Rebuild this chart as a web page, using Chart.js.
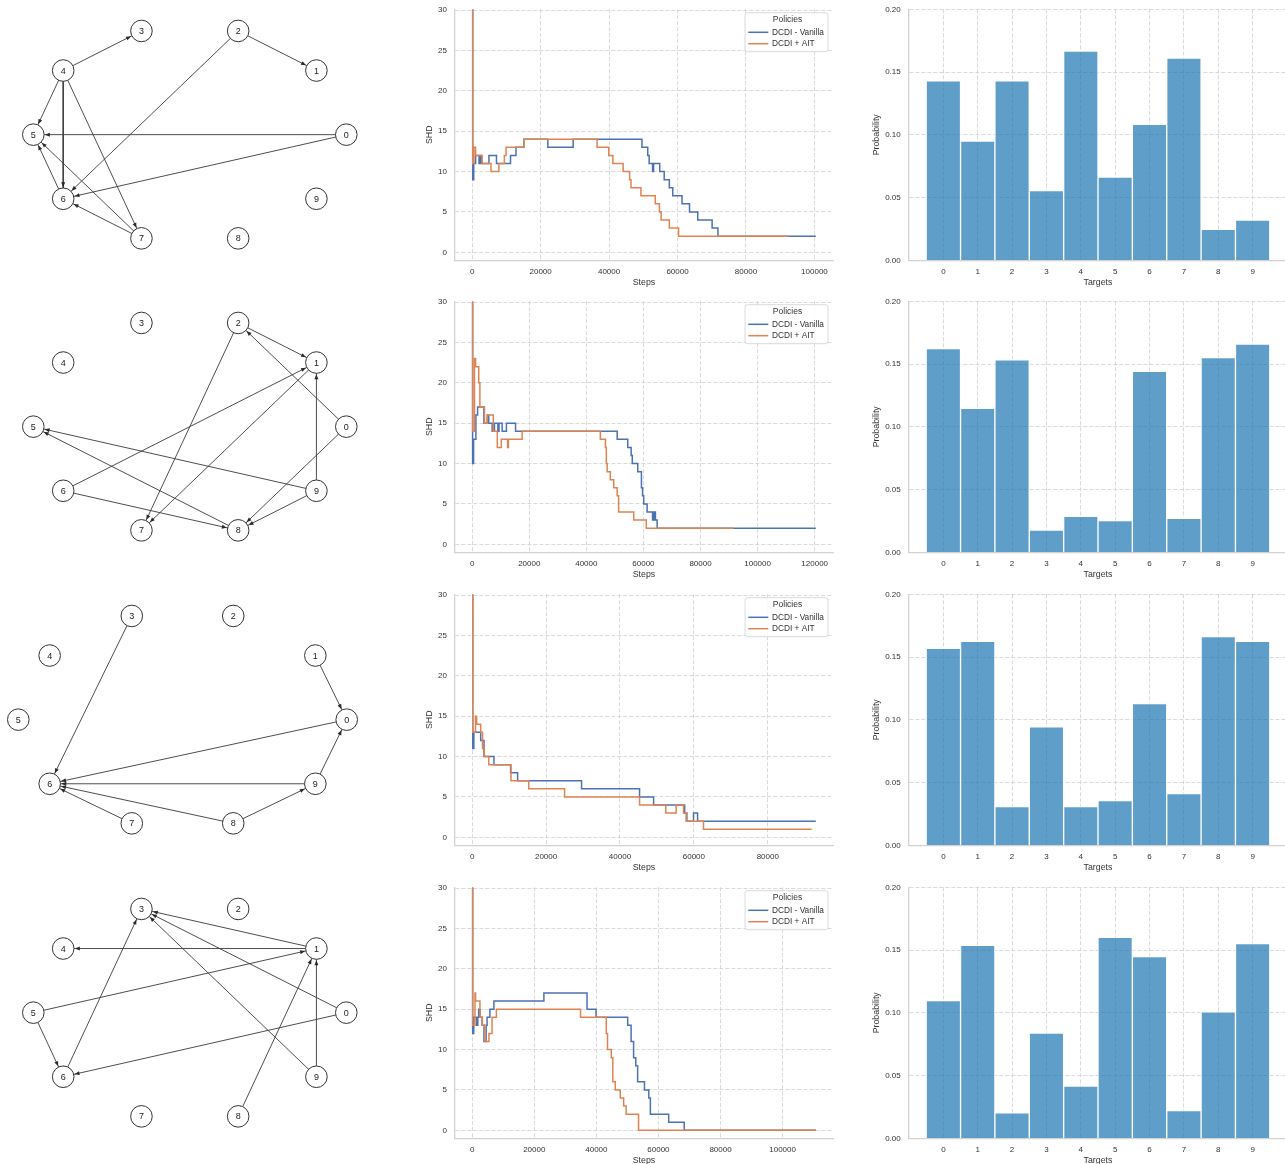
<!DOCTYPE html>
<html><head><meta charset="utf-8">
<script src="https://cdn.jsdelivr.net/npm/chart.js@4.4.1/dist/chart.umd.min.js"></script>
<style>
html,body{margin:0;padding:0;background:#fff;overflow:hidden;width:1285px;height:1164px;position:relative;}
canvas{position:absolute;}
</style></head><body>
<script>
// ---------------- DATA ----------------
const rowTops = [0, 292, 585, 878];

// graph layout (circular layout coordinates)
const nodeIds = [0, 1, 2, 3, 4, 5, 6, 7, 8, 9];
const nodeX = [1.000, 0.809, 0.309, -0.309, -0.809, -1.000, -0.809, -0.309, 0.309, 0.809];
const nodeY = [0.000, 0.588, 0.951, 0.951, 0.588, 0.000, -0.588, -0.951, -0.951, -0.588];

const edges1 = [[4,3],[2,1],[4,5],[4,6],[4,7],[2,6],[0,5],[0,6],[6,5],[7,5],[7,6]];
const edges2 = [[2,1],[0,2],[2,7],[6,1],[1,7],[9,1],[9,5],[8,5],[6,8],[0,8],[9,8]];
const edges3 = [[3,6],[1,0],[0,6],[9,6],[7,6],[8,6],[8,9],[9,0]];
const edges4 = [[1,3],[1,4],[0,3],[9,3],[6,3],[5,1],[8,1],[9,1],[5,6],[0,6]];

// SHD curves: [step, SHD] at each change point
const vanilla1 = [[0,30],[150,9],[450,11],[1000,12],[2000,11],[2300,12],[2700,11],[4900,12],[7100,11],[11200,12],[12800,13],[15100,14],[22100,13],[29500,14],[49600,13],[51300,12],[51700,11],[52700,10],[53000,11],[54800,10],[56100,9],[57600,8],[58600,7],[61300,6],[63500,5],[65900,4],[70100,3],[71800,2],[100400,2]];
const ait1 = [[0,30],[150,11],[500,13],[1000,12],[2900,11],[5500,10],[7800,11],[9400,12],[9900,13],[15100,14],[36500,13],[39900,12],[41100,11],[44100,10],[46000,9],[46400,8],[49300,7],[53500,6],[54700,5],[55200,4],[57600,3],[60300,2],[92400,2]];

const vanilla2 = [[0,30],[150,10],[500,13],[1300,16],[1900,17],[4100,15],[5300,16],[5800,15],[7000,14],[7800,15],[9000,14],[9400,15],[10500,14],[12000,15],[15200,14],[50800,13],[54500,12],[55700,11],[56100,10],[58000,9],[59300,7],[59700,6],[60100,5],[61300,4],[63200,3],[63400,4],[63700,3],[64000,4],[64200,3],[64800,2],[120400,2]];
const ait2 = [[0,30],[150,14],[800,23],[1200,22],[2300,20],[2700,17],[4300,15],[5300,16],[7400,14],[8800,12],[10200,13],[12400,12],[12700,13],[17500,14],[44900,13],[46700,12],[47000,10],[47300,9],[48400,8],[49600,7],[50800,6],[51300,4],[56600,3],[61000,2],[91600,2]];

const vanilla3 = [[0,30],[150,11],[450,13],[2300,12],[3200,10],[5900,9],[10400,8],[12300,7],[29600,6],[45300,5],[49100,4],[57500,3],[58100,2],[59900,3],[61000,2],[93000,2]];
const ait3 = [[0,30],[150,13],[900,15],[1200,14],[2300,13],[2800,11],[3300,10],[4500,9],[10500,7],[15300,6],[25000,5],[45300,4],[52400,3],[55200,4],[57200,3],[57900,2],[62600,1],[91900,1]];

const vanilla4 = [[0,30],[150,12],[500,14],[1400,13],[1800,14],[2100,15],[2500,14],[3200,13],[3800,11],[4500,13],[4800,14],[5700,15],[7000,16],[23100,17],[37000,15],[39900,14],[50100,13],[51200,11],[52000,9],[52700,8],[53300,6],[55500,5],[56900,4],[57400,2],[63300,1],[68300,0],[110700,0]];
const ait4 = [[0,30],[150,13],[900,17],[1100,16],[2500,14],[3300,13],[4000,11],[5400,12],[6400,14],[7800,15],[34900,14],[43200,12],[43600,10],[44800,9],[45300,6],[46100,5],[47700,4],[48800,3],[49600,2],[53600,0],[110700,0]];

const stepTicks1 = [0, 20000, 40000, 60000, 80000, 100000];
const stepTicks2 = [0, 20000, 40000, 60000, 80000, 100000, 120000];
const stepTicks3 = [0, 20000, 40000, 60000, 80000];
const stepTicks4 = [0, 20000, 40000, 60000, 80000, 100000];
const shdTicks = [0, 5, 10, 15, 20, 25, 30];

const seriesNames = ['DCDI - Vanilla', 'DCDI + AIT'];
const legendTitle = 'Policies';

// target histograms
const targets = [0, 1, 2, 3, 4, 5, 6, 7, 8, 9];
const probs1 = [0.143, 0.095, 0.143, 0.0555, 0.1668, 0.0664, 0.1084, 0.1612, 0.0247, 0.0321];
const probs2 = [0.1623, 0.1147, 0.1533, 0.0178, 0.0287, 0.0252, 0.1442, 0.0271, 0.1551, 0.166];
const probs3 = [0.157, 0.1625, 0.0308, 0.0943, 0.0308, 0.0356, 0.1129, 0.0412, 0.1663, 0.1625];
const probs4 = [0.1097, 0.1538, 0.0202, 0.0839, 0.0417, 0.1602, 0.1448, 0.022, 0.1007, 0.1551];
const probTicks = [0, 0.05, 0.10, 0.15, 0.20];

// ---------------- STYLE ----------------
const FONT = '"Liberation Sans", Arial, sans-serif';
const TXT = '#333333';
const GRID = '#d0d0d0';
const SPINE = '#d2d2d2';
const BLUE = '#4c72b0';
const ORANGE = '#dd8452';
Chart.defaults.font.family = FONT;

function mkCanvas(left, top, w, h) {
  const c = document.createElement('canvas');
  c.width = w; c.height = h;
  c.style.left = left + 'px'; c.style.top = top + 'px';
  c.style.width = w + 'px'; c.style.height = h + 'px';
  document.body.appendChild(c);
  return c;
}
function noPad(s) { s.paddingTop = 0; s.paddingBottom = 0; s.paddingLeft = 0; s.paddingRight = 0; }

// ---------------- GRAPH PLOTS ----------------
const NODE_R = 10.8;
const graphPlugin = {
  id: 'graphDeco',
  afterDatasetsDraw(chart, args, opts) {
    const ctx = chart.ctx, sx = chart.scales.x, sy = chart.scales.y;
    ctx.save();
    ctx.fillStyle = '#2a2a2a';
    opts.edges.forEach(([s, t]) => {
      const x1 = sx.getPixelForValue(nodeX[s]), y1 = sy.getPixelForValue(nodeY[s]);
      const x2 = sx.getPixelForValue(nodeX[t]), y2 = sy.getPixelForValue(nodeY[t]);
      const dx = x2 - x1, dy = y2 - y1, L = Math.hypot(dx, dy);
      const ux = dx / L, uy = dy / L;
      const tx = x2 - ux * (NODE_R + 0.8), ty = y2 - uy * (NODE_R + 0.8);
      const bx = tx - ux * 5, by = ty - uy * 5;
      ctx.beginPath();
      ctx.moveTo(tx, ty);
      ctx.lineTo(bx - uy * 2, by + ux * 2);
      ctx.lineTo(bx + uy * 2, by - ux * 2);
      ctx.closePath();
      ctx.fill();
    });
    ctx.fillStyle = '#222';
    ctx.font = '9px ' + FONT;
    ctx.textAlign = 'center';
    ctx.textBaseline = 'middle';
    nodeIds.forEach(i => {
      ctx.fillText(String(i), sx.getPixelForValue(nodeX[i]), sy.getPixelForValue(nodeY[i]) + 0.5);
    });
    ctx.restore();
  }
};

function graphChart(row, edges, padL, padR) {
  const top = rowTops[row];
  const c = mkCanvas(0, top, 380, 270);
  const datasets = [{
    data: nodeIds.map(i => ({x: nodeX[i], y: nodeY[i]})),
    pointRadius: NODE_R, pointHoverRadius: NODE_R,
    pointBackgroundColor: '#ffffff', pointBorderColor: '#333333', pointBorderWidth: 1,
    showLine: false, clip: false
  }];
  edges.forEach(([s, t]) => {
    datasets.push({
      data: [{x: nodeX[s], y: nodeY[s]}, {x: nodeX[t], y: nodeY[t]}],
      showLine: true, borderColor: '#3a3a3a', borderWidth: 0.9,
      pointRadius: 0, pointHoverRadius: 0, clip: false
    });
  });
  new Chart(c, {
    type: 'scatter',
    data: {datasets},
    options: {
      responsive: false, animation: false, events: [], devicePixelRatio: 1,
      layout: {padding: {left: padL, right: padR, top: 25.6, bottom: 26.3}},
      scales: {
        x: {type: 'linear', display: false, min: -1, max: 1},
        y: {type: 'linear', display: false, min: -1, max: 1}
      },
      plugins: {legend: {display: false}, tooltip: {enabled: false}, graphDeco: {edges}}
    },
    plugins: [graphPlugin]
  });
}

graphChart(0, edges1, 33.3, 33.7);
graphChart(1, edges2, 33.3, 33.7);
graphChart(2, edges3, 18.3, 33.3);
graphChart(3, edges4, 33.3, 33.7);

// ---------------- SHD LINE CHARTS ----------------
const legendPlugin = {
  id: 'policyLegend',
  afterDraw(chart) {
    const ctx = chart.ctx, ca = chart.chartArea;
    const bw = 83, bh = 39;
    const bx = ca.right - 5 - bw, by = ca.top + 3.5;
    ctx.save();
    ctx.beginPath();
    if (ctx.roundRect) ctx.roundRect(bx, by, bw, bh, 2.5); else ctx.rect(bx, by, bw, bh);
    ctx.fillStyle = 'rgba(255,255,255,0.85)';
    ctx.fill();
    ctx.strokeStyle = '#d6d6d6';
    ctx.lineWidth = 0.9;
    ctx.stroke();
    ctx.fillStyle = TXT;
    ctx.font = '8.5px ' + FONT;
    ctx.textBaseline = 'middle';
    ctx.textAlign = 'center';
    ctx.fillText(legendTitle, bx + bw / 2 + 1, by + 7);
    ctx.textAlign = 'left';
    ctx.font = '8.3px ' + FONT;
    const dsOrder = [0, 1];
    dsOrder.forEach((di, k) => {
      const ds = chart.data.datasets[di];
      const yy = by + 19.6 + k * 11.4;
      ctx.strokeStyle = ds.borderColor;
      ctx.lineWidth = 1.5;
      ctx.beginPath();
      ctx.moveTo(bx + 3.3, yy);
      ctx.lineTo(bx + 23.3, yy);
      ctx.stroke();
      ctx.fillStyle = TXT;
      ctx.fillText(ds.label, bx + 27, yy + 0.3);
    });
    ctx.restore();
  }
};

function lineChart(row, van, ait, xTicks) {
  const top = rowTops[row];
  const c = mkCanvas(415, top, 425, 290);
  const dataMax = Math.max(van[van.length - 1][0], ait[ait.length - 1][0]);
  const margin = dataMax * 0.05;
  new Chart(c, {
    type: 'line',
    data: {datasets: [
      {label: seriesNames[0], data: van.map(p => ({x: p[0], y: p[1]})), borderColor: BLUE,
       borderWidth: 1.5, pointRadius: 0, pointHoverRadius: 0, stepped: true, fill: false, order: 1},
      {label: seriesNames[1], data: ait.map(p => ({x: p[0], y: p[1]})), borderColor: ORANGE,
       borderWidth: 1.5, pointRadius: 0, pointHoverRadius: 0, stepped: true, fill: false, order: 0}
    ]},
    options: {
      responsive: false, animation: false, events: [], devicePixelRatio: 1,
      layout: {padding: {left: 0, right: 7, top: 9.2, bottom: 0}},
      scales: {
        x: {
          type: 'linear', min: -margin, max: dataMax + margin,
          afterBuildTicks: s => { s.ticks = xTicks.map(v => ({value: v})); },
          afterFit: s => { s.height = 29.6; noPad(s); },
          grid: {color: GRID, lineWidth: 0.8, drawTicks: false},
          border: {display: true, color: SPINE, width: 1.3, dash: [4, 2]},
          ticks: {padding: 6.3, color: TXT, font: {size: 8}, maxRotation: 0, autoSkip: false, callback: v => String(v)},
          title: {display: true, text: 'Steps', color: TXT, font: {size: 8.8}, padding: {top: 0, bottom: 2.4}}
        },
        y: {
          type: 'linear', min: -1, max: 30.1,
          afterBuildTicks: s => { s.ticks = shdTicks.map(v => ({value: v})); },
          afterFit: s => { s.width = 40; noPad(s); },
          grid: {color: GRID, lineWidth: 0.8, drawTicks: false},
          border: {display: true, color: SPINE, width: 1.3, dash: [4, 2]},
          ticks: {padding: 8, color: TXT, font: {size: 8}, autoSkip: false, callback: v => String(v)},
          title: {display: true, text: 'SHD', color: TXT, font: {size: 8.8}, padding: {top: 9.7, bottom: 0}}
        }
      },
      plugins: {legend: {display: false}, tooltip: {enabled: false}}
    },
    plugins: [legendPlugin]
  });
}

lineChart(0, vanilla1, ait1, stepTicks1);
lineChart(1, vanilla2, ait2, stepTicks2);
lineChart(2, vanilla3, ait3, stepTicks3);
lineChart(3, vanilla4, ait4, stepTicks4);

// ---------------- TARGET HISTOGRAMS ----------------
function barChart(row, probs) {
  const top = rowTops[row];
  const c = mkCanvas(860, top, 427, 290);
  new Chart(c, {
    type: 'bar',
    data: {datasets: [{
      data: probs.map((v, i) => ({x: targets[i], y: v})),
      backgroundColor: 'rgba(31,119,180,0.71)', borderColor: '#ffffff', borderWidth: 1,
      barPercentage: 1, categoryPercentage: 1
    }]},
    options: {
      responsive: false, animation: false, events: [], devicePixelRatio: 1,
      layout: {padding: {left: 0, right: 0, top: 9.3, bottom: 0}},
      scales: {
        x: {
          type: 'linear', min: -1, max: 10, offset: false,
          afterBuildTicks: s => { s.ticks = targets.map(v => ({value: v})); },
          afterFit: s => { s.height = 29.7; noPad(s); },
          grid: {color: GRID, lineWidth: 0.8, drawTicks: false, offset: false},
          border: {display: true, color: SPINE, width: 1.3, dash: [4, 2]},
          ticks: {padding: 6.3, color: TXT, font: {size: 8}, maxRotation: 0, autoSkip: false, callback: v => String(v)},
          title: {display: true, text: 'Targets', color: TXT, font: {size: 8.8}, padding: {top: 0, bottom: 2.4}}
        },
        y: {
          type: 'linear', min: 0, max: 0.2,
          afterBuildTicks: s => { s.ticks = probTicks.map(v => ({value: v})); },
          afterFit: s => { s.width = 49; noPad(s); },
          grid: {color: GRID, lineWidth: 0.8, drawTicks: false},
          border: {display: true, color: SPINE, width: 1.3, dash: [4, 2]},
          ticks: {padding: 8.3, color: TXT, font: {size: 8}, autoSkip: false, callback: v => Number(v).toFixed(2)},
          title: {display: true, text: 'Probability', color: TXT, font: {size: 8.8}, padding: {top: 11.7, bottom: 0}}
        }
      },
      plugins: {legend: {display: false}, tooltip: {enabled: false}}
    }
  });
}

barChart(0, probs1);
barChart(1, probs2);
barChart(2, probs3);
barChart(3, probs4);
</script>
</body></html>
